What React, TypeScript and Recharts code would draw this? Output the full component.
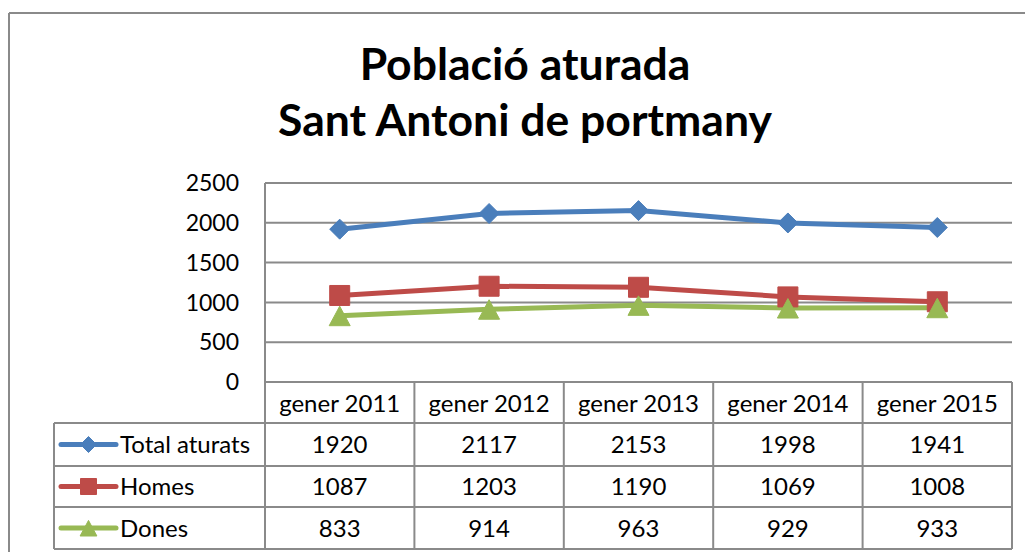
import React from 'react';
import { LineChart, Line, XAxis, YAxis, CartesianGrid } from 'recharts';

const categories = ['gener 2011', 'gener 2012', 'gener 2013', 'gener 2014', 'gener 2015'];
const totalAturats = [1920, 2117, 2153, 1998, 1941];
const homes = [1087, 1203, 1190, 1069, 1008];
const dones = [833, 914, 963, 929, 933];
const yTicks = [0, 500, 1000, 1500, 2000, 2500];
const titleLines = ['Població aturada', 'Sant Antoni de portmany'];

const seriesDefs = [
  { key: 'total', name: 'Total aturats', values: totalAturats, color: '#4A7EBB', shape: 'diamond' },
  { key: 'homes', name: 'Homes', values: homes, color: '#BE4B48', shape: 'square' },
  { key: 'dones', name: 'Dones', values: dones, color: '#98B954', shape: 'triangle' },
];

const data = categories.map((c, i) => {
  const row: any = { cat: c };
  seriesDefs.forEach((s) => (row[s.key] = s.values[i]));
  return row;
});

const FONT = 'Lato, "Open Sans", sans-serif';
const GRID = '#8a8a8a';

function markerPath(shape: string, cx: number, cy: number, s: number) {
  if (shape === 'diamond') {
    return `M${cx},${cy - s} L${cx + s},${cy} L${cx},${cy + s} L${cx - s},${cy} Z`;
  }
  if (shape === 'square') {
    return `M${cx - s},${cy - s} L${cx + s},${cy - s} L${cx + s},${cy + s} L${cx - s},${cy + s} Z`;
  }
  return `M${cx},${cy - s * 0.95} L${cx + s * 1.05},${cy + s} L${cx - s * 1.05},${cy + s} Z`;
}

const W = 1025;
const H = 552;
const PLOT_LEFT = 265;
const PLOT_RIGHT = 1012;
const PLOT_TOP = 183;
const PLOT_BOTTOM = 382;
const TABLE_LEFT = 54;
const ROW_Y = [382, 423, 466, 507, 549];

export default function App() {
  const colW = (PLOT_RIGHT - PLOT_LEFT) / categories.length;
  const colX = categories.map((_, i) => PLOT_LEFT + i * colW);
  colX.push(PLOT_RIGHT);

  return (
    <div style={{ position: 'fixed', left: 0, top: 0, width: W, height: H, overflow: 'hidden', background: '#fff' }}>
      <LineChart
        width={W}
        height={H}
        data={data}
        margin={{ top: PLOT_TOP, right: W - PLOT_RIGHT, left: 0, bottom: 0 }}
      >
        <CartesianGrid vertical={false} stroke={GRID} strokeWidth={2} />
        <XAxis
          dataKey="cat"
          height={H - PLOT_BOTTOM}
          axisLine={false}
          tickLine={false}
          tickSize={0}
          tickMargin={13}
          padding={{ left: colW / 2, right: colW / 2 }}
          interval={0}
          tick={{ fill: '#000', fontSize: 24, fontFamily: FONT }}
        />
        <YAxis
          width={PLOT_LEFT}
          domain={[0, 2500]}
          ticks={yTicks}
          axisLine={{ stroke: GRID, strokeWidth: 2 }}
          tickLine={false}
          tickSize={0}
          tickMargin={26}
          tick={{ fill: '#000', fontSize: 23, fontFamily: FONT }}
        />
        {seriesDefs.map((s) => (
          <Line
            key={s.key}
            dataKey={s.key}
            name={s.name}
            stroke={s.color}
            strokeWidth={5}
            isAnimationActive={false}
            dot={(p: any) => (
              <path
                key={`${s.key}-${p.index}`}
                d={markerPath(s.shape, p.cx, p.cy, 10)}
                fill={s.color}
                stroke={s.color}
                strokeWidth={1}
              />
            )}
            activeDot={false}
          />
        ))}
      </LineChart>
      <svg
        width={W}
        height={H}
        style={{ position: 'absolute', left: 0, top: 0, pointerEvents: 'none' }}
      >
        {/* outer chart border */}
        <line x1={9} y1={13} x2={9} y2={H} stroke={GRID} strokeWidth={2} />
        <line x1={9} y1={13} x2={W} y2={13} stroke={GRID} strokeWidth={2} />
        {/* title */}
        {titleLines.map((t, i) => (
          <text
            key={i}
            x={525}
            y={80 + i * 56}
            textAnchor="middle"
            fontFamily={FONT}
            fontWeight={700}
            fontSize={44.5}
            fill="#000"
          >
            {t}
          </text>
        ))}
        {/* table grid */}
        {colX.map((x, i) => (
          <line key={`v${i}`} x1={x} y1={ROW_Y[0]} x2={x} y2={ROW_Y[4]} stroke={GRID} strokeWidth={2} />
        ))}
        <line x1={TABLE_LEFT} y1={ROW_Y[1]} x2={TABLE_LEFT} y2={ROW_Y[4]} stroke={GRID} strokeWidth={2} />
        {ROW_Y.slice(1).map((y, i) => (
          <line key={`h${i}`} x1={TABLE_LEFT} y1={y} x2={PLOT_RIGHT} y2={y} stroke={GRID} strokeWidth={2} />
        ))}
        {seriesDefs.map((s, r) => {
          const cy = (ROW_Y[r + 1] + ROW_Y[r + 2]) / 2;
          return (
            <g key={s.key}>
              <line x1={61} y1={cy} x2={116} y2={cy} stroke={s.color} strokeWidth={5} strokeLinecap="round" />
              <path d={markerPath(s.shape, 88.5, cy, 8)} fill={s.color} stroke={s.color} strokeWidth={1} />
              <text x={120} y={cy + 8.5} fontFamily={FONT} fontSize={24} fill="#000">
                {s.name}
              </text>
              {s.values.map((v, i) => (
                <text
                  key={i}
                  x={colX[i] + colW / 2}
                  y={cy + 8.5}
                  textAnchor="middle"
                  fontFamily={FONT}
                  fontSize={24}
                  fill="#000"
                >
                  {v}
                </text>
              ))}
            </g>
          );
        })}
      </svg>
    </div>
  );
}
